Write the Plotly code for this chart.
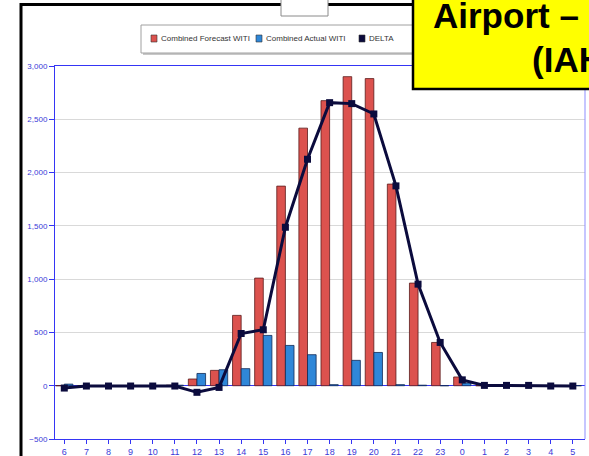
import plotly.graph_objects as go

hours = ["6", "7", "8", "9", "10", "11", "12", "13", "14", "15", "16", "17",
         "18", "19", "20", "21", "22", "23", "0", "1", "2", "3", "4", "5"]
forecast_witi = [0, 0, 0, 0, 0, 5, 63, 144, 660, 1010, 1873, 2417,
                 2675, 2900, 2882, 1892, 963, 406, 82, 0, 0, 0, 0, 0]
actual_witi = [15, 0, 0, 0, 0, 5, 115, 150, 160, 472, 378, 291,
               10, 238, 312, 10, 5, 0, 25, 0, 0, 0, 0, 0]
delta = [-22, -3, -3, -3, -3, -3, -62, -16, 490, 525, 1487, 2125,
         2656, 2647, 2550, 1875, 953, 406, 55, 3, 3, 3, -3, -3]
series_names = ["Combined Forecast WITI", "Combined Actual WITI", "DELTA"]
title_lines = ["Airport \u2013", "(IAH"]
y_ticks = [-500, 0, 500, 1000, 1500, 2000, 2500, 3000]

W, H = 589, 456
RED, BLUE, NAVY = "#dc524e", "#2f87d8", "#0b0b3d"
AXB = "#3535f5"


def px(x):
    return x / W


def py(y):
    return 1 - y / H


fig = go.Figure()
fig.add_trace(go.Bar(x=hours, y=forecast_witi, name=series_names[0],
                     marker=dict(color=RED, line=dict(color="#5a1c1c", width=0.8)),
                     showlegend=False))
fig.add_trace(go.Bar(x=hours, y=actual_witi, name=series_names[1],
                     marker=dict(color=BLUE, line=dict(color="#102a55", width=0.8)),
                     showlegend=False))
fig.add_trace(go.Scatter(x=hours, y=delta, name=series_names[2], mode="lines+markers",
                         line=dict(color=NAVY, width=3),
                         marker=dict(symbol="square", size=7, color=NAVY),
                         showlegend=False))

shapes = []
# outer slide frame
shapes.append(dict(type="rect", xref="paper", yref="paper", x0=px(21), x1=px(640),
                   y0=py(500), y1=py(4.5), line=dict(color="black", width=3)))
# small box top
shapes.append(dict(type="rect", xref="paper", yref="paper", x0=px(281), x1=px(328),
                   y0=py(16), y1=py(-5), fillcolor="white",
                   line=dict(color="#8a8a8a", width=1)))
# legend shadow + box
shapes.append(dict(type="rect", xref="paper", yref="paper", x0=px(143), x1=px(422),
                   y0=py(55), y1=py(27), fillcolor="#c8c8c8", line=dict(width=0)))
shapes.append(dict(type="rect", xref="paper", yref="paper", x0=px(141), x1=px(420),
                   y0=py(53), y1=py(25), fillcolor="white",
                   line=dict(color="#a0a0a0", width=1)))
# legend swatches
sw = [(151, RED), (256, BLUE), (359, NAVY)]
for x0, c in sw:
    shapes.append(dict(type="rect", xref="paper", yref="paper", x0=px(x0), x1=px(x0 + 6),
                       y0=py(42), y1=py(35), fillcolor=c,
                       line=dict(color="#333333", width=0.6)))
# right plot border (lighter)
shapes.append(dict(type="line", xref="paper", yref="paper", x0=px(585), x1=px(585),
                   y0=py(439), y1=py(66), line=dict(color="#8d8dff", width=1)))
# yellow title box
shapes.append(dict(type="rect", xref="paper", yref="paper", x0=px(413), x1=px(640),
                   y0=py(89), y1=py(-10), fillcolor="#ffff00",
                   line=dict(color="black", width=2.5)))

annotations = []
leg_x = [159, 264, 367]
for name, x0 in zip(series_names, leg_x):
    annotations.append(dict(text=name, xref="paper", yref="paper", x=px(x0), y=py(38.5),
                            xanchor="left", yanchor="middle", showarrow=False,
                            font=dict(family="Arial, Liberation Sans, sans-serif",
                                      size=8, color="#333333")))
annotations.append(dict(text="<b>" + title_lines[0] + "</b>", xref="paper", yref="paper",
                        x=px(431), y=py(15), xanchor="left", yanchor="middle",
                        showarrow=False,
                        font=dict(family="Arial, Liberation Sans, sans-serif",
                                  size=35, color="black")))
annotations.append(dict(text="<b>" + title_lines[1] + "</b>", xref="paper", yref="paper",
                        x=px(530), y=py(60), xanchor="left", yanchor="middle",
                        showarrow=False,
                        font=dict(family="Arial, Liberation Sans, sans-serif",
                                  size=35, color="black")))

fig.update_layout(
    width=W, height=H,
    margin=dict(l=0, r=0, t=0, b=0, pad=0, autoexpand=False),
    paper_bgcolor="white", plot_bgcolor="white",
    barmode="group", bargap=0.22, bargroupgap=0,
    showlegend=False,
    shapes=shapes, annotations=annotations,
    xaxis=dict(domain=[px(55), px(585)], type="category", automargin=False,
               range=[-0.42, 23.55],
               showline=True, linecolor=AXB, linewidth=1, mirror=True,
               ticks="outside", ticklen=4, tickcolor=AXB,
               tickfont=dict(family="Arial, Liberation Sans, sans-serif", size=9,
                             color="#3a3ad8"),
               showgrid=False),
    yaxis=dict(domain=[py(439), py(66)], range=[-500, 3000], automargin=False,
               tickvals=y_ticks, tickformat=",",
               showline=True, linecolor=AXB, linewidth=1,
               ticks="outside", ticklen=5, tickcolor=AXB,
               tickfont=dict(family="Arial, Liberation Sans, sans-serif", size=8,
                             color="#3a3ad8"),
               showgrid=True, gridcolor="#d9d9d9", gridwidth=1,
               zeroline=True, zerolinecolor=AXB, zerolinewidth=1),
)

fig.write_html("out.html",
               config={"displayModeBar": False},
               post_script="document.body.style.margin='0px';"
                           "document.body.style.overflow='hidden';")
